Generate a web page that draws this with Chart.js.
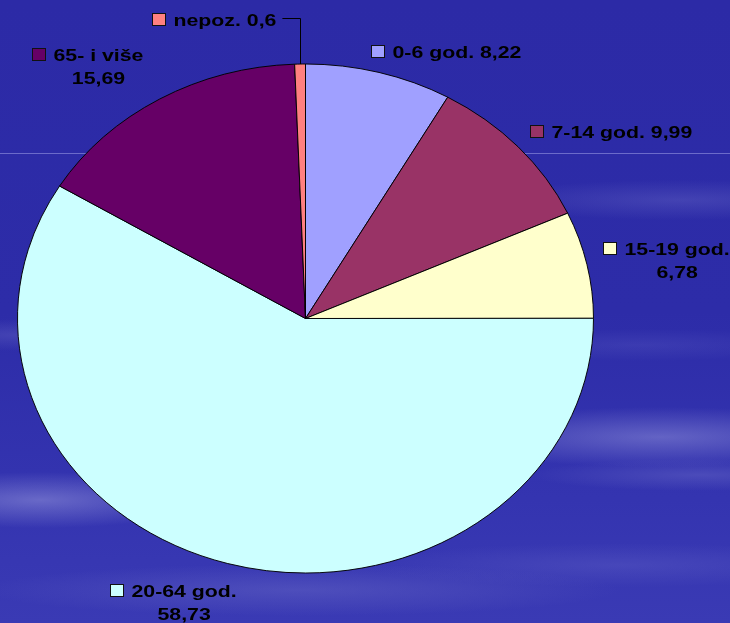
<!DOCTYPE html>
<html>
<head>
<meta charset="utf-8">
<script src="https://cdn.jsdelivr.net/npm/chart.js@4.4.0/dist/chart.umd.min.js"></script>
<style>
  body { margin: 0; }
  #wrap {
    width: 730px; height: 623px; position: relative; overflow: hidden;
    background:
      linear-gradient(to bottom, transparent 153px, rgba(150,150,225,0.6) 153px, rgba(150,150,225,0.6) 154px, transparent 154px),
      radial-gradient(ellipse 230px 30px at 660px 437px, rgba(140,140,215,0.55), rgba(140,140,215,0) 100%),
      radial-gradient(ellipse 170px 16px at 700px 475px, rgba(120,120,205,0.35), rgba(120,120,205,0) 100%),
      radial-gradient(ellipse 200px 20px at 680px 200px, rgba(110,110,200,0.35), rgba(110,110,200,0) 100%),
      radial-gradient(ellipse 180px 16px at 640px 345px, rgba(100,100,200,0.25), rgba(100,100,200,0) 100%),
      radial-gradient(ellipse 170px 28px at 40px 500px, rgba(140,140,215,0.6), rgba(140,140,215,0) 100%),
      radial-gradient(ellipse 120px 16px at 20px 335px, rgba(110,110,200,0.35), rgba(110,110,200,0) 100%),
      radial-gradient(ellipse 320px 26px at 300px 590px, rgba(110,110,200,0.4), rgba(110,110,200,0) 100%),
      radial-gradient(ellipse 260px 22px at 620px 565px, rgba(100,100,200,0.35), rgba(100,100,200,0) 100%),
      linear-gradient(to bottom, #2c2aa6 0%, #2d2ca8 50%, #3434b0 80%, #3a3ab4 100%);
  }
</style>
</head>
<body>
<div id="wrap"><canvas id="mycanvas" width="730" height="623"></canvas></div>
<script>
var categories = ['0-6 god.', '7-14 god.', '15-19 god.', '20-64 god.', '65- i više', 'nepoz.'];
var shares = [8.22, 9.99, 6.78, 58.73, 15.69, 0.6];
var sliceColors = ['#a0a0ff', '#993366', '#ffffcc', '#ccffff', '#660066', '#ff8080'];

// label layout: two-line labels, nudge of the key box from the slice edge, leader line
var labelTwoLines = [false, false, true, true, true, false];
var labelNudge = [[-8, -27], [12, -22], [16, -23], [-118, 20], [-128, -51], [-148, -51]];
var labelLeader = [false, false, false, false, false, true];

var SY = 0.8837;   // the pie is drawn squashed vertically
var TEXT_SX = 1.29; // label text is stretched horizontally

var squash = {
  id: 'squash',
  beforeDatasetsDraw: function (chart) {
    var a = chart.getDatasetMeta(0).data[0];
    var ctx = chart.ctx;
    ctx.save();
    ctx.translate(a.x, a.y);
    ctx.scale(1, SY);
    ctx.translate(-a.x, -a.y);
  },
  afterDatasetsDraw: function (chart) {
    chart.ctx.restore();
  }
};

function wideText(ctx, s, x, y) {
  ctx.save();
  ctx.translate(x, y);
  ctx.scale(TEXT_SX, 1);
  ctx.fillText(s, 0, 0);
  ctx.restore();
}

var sliceLabels = {
  id: 'sliceLabels',
  afterDraw: function (chart) {
    var ctx = chart.ctx;
    var meta = chart.getDatasetMeta(0);
    ctx.save();
    ctx.font = 'bold 16.5px "Liberation Sans", Arial, sans-serif';
    ctx.textBaseline = 'alphabetic';
    ctx.textAlign = 'left';
    for (var i = 0; i < meta.data.length; i++) {
      var el = meta.data[i];
      var mid = (el.startAngle + el.endAngle) / 2;
      var px = el.x + Math.cos(mid) * el.outerRadius;
      var py = el.y + Math.sin(mid) * el.outerRadius * SY;
      var mx = Math.round(px + labelNudge[i][0]) + 0.5;
      var my = Math.round(py + labelNudge[i][1]) + 0.5;
      var value = String(shares[i]).replace('.', ',');
      var lines = labelTwoLines[i] ? [categories[i], value] : [categories[i] + ' ' + value];

      ctx.fillStyle = sliceColors[i];
      ctx.fillRect(mx, my, 13, 12);
      ctx.strokeStyle = '#111';
      ctx.lineWidth = 1;
      ctx.strokeRect(mx, my, 13, 12);

      ctx.fillStyle = '#000';
      var tx = mx + 21;
      var w0 = ctx.measureText(lines[0]).width * TEXT_SX;
      wideText(ctx, lines[0], tx, my + 12);
      if (lines.length > 1) {
        var w1 = ctx.measureText(lines[1]).width * TEXT_SX;
        wideText(ctx, lines[1], tx + (w0 - w1) / 2, my + 35);
      }

      if (labelLeader[i]) {
        var ly = my + 5;
        ctx.beginPath();
        ctx.moveTo(tx + w0 + 6, ly);
        ctx.lineTo(Math.round(px) + 0.5, ly);
        ctx.lineTo(Math.round(px) + 0.5, py);
        ctx.strokeStyle = '#000';
        ctx.stroke();
      }
    }
    ctx.restore();
  }
};

var chartdata = {
  labels: categories,
  datasets: [{
    data: shares,
    backgroundColor: sliceColors,
    borderColor: '#000',
    borderWidth: 1
  }]
};

var ctx = document.getElementById('mycanvas');

var pieChart = new Chart(ctx, {
  type: 'pie',
  data: chartdata,
  options: {
    responsive: false,
    animation: false,
    devicePixelRatio: 1,
    events: [],
    layout: { padding: { left: 17, right: 136, top: 30, bottom: 16 } },
    plugins: {
      legend: { display: false },
      tooltip: { enabled: false }
    }
  },
  plugins: [squash, sliceLabels]
});
</script>
</body>
</html>
